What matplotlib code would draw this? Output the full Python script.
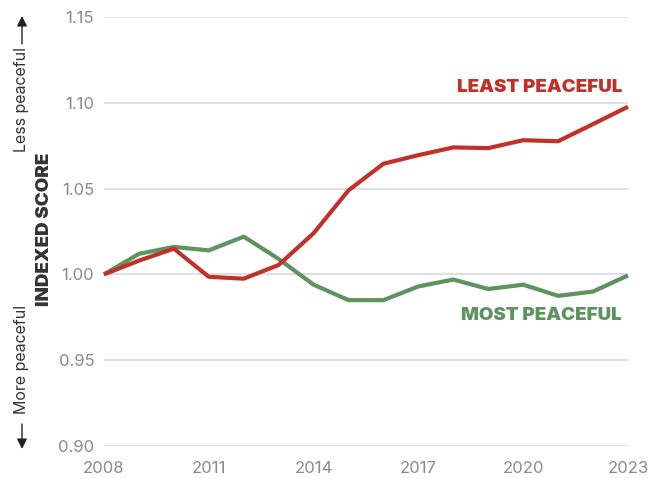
import matplotlib
matplotlib.use("Agg")
import matplotlib.pyplot as plt
from matplotlib.patches import FancyArrowPatch

years = list(range(2008, 2024))
least_peaceful = [1.000, 1.008, 1.015, 0.9986, 0.9975, 1.0055, 1.024, 1.049, 1.0645,
                  1.0695, 1.074, 1.0736, 1.0782, 1.0776, 1.0876, 1.0977]
most_peaceful = [1.000, 1.012, 1.016, 1.014, 1.022, 1.009, 0.994, 0.985, 0.985,
                 0.993, 0.997, 0.9915, 0.994, 0.9875, 0.990, 0.9994]
x_ticks = [2008, 2011, 2014, 2017, 2020, 2023]
y_ticks = [0.90, 0.95, 1.00, 1.05, 1.10, 1.15]

RED = "#c1312b"
GREEN = "#5c935f"
GRAY = "#8a8a8a"

fig = plt.figure(figsize=(6.62, 4.79), dpi=100)
ax = fig.add_axes([104/662, 1-446/479, (628-104)/662, (446-17)/479])
ax.set_xlim(2008, 2023)
ax.set_ylim(0.90, 1.15)
for s in ax.spines.values():
    s.set_visible(False)
ax.set_yticks(y_ticks)
ax.set_yticklabels([f"{v:.2f}" for v in y_ticks])
ax.set_xticks(x_ticks)
ax.set_xticklabels([str(v) for v in x_ticks])
ax.tick_params(axis="both", length=0, labelsize=12, labelcolor=GRAY)
ax.tick_params(axis="y", pad=7)
ax.tick_params(axis="x", pad=11)
for lab in ax.get_xticklabels() + ax.get_yticklabels():
    lab.set_family("Inter")
ax.grid(axis="y", color="#d9d9d9", linewidth=1.2)
ax.set_axisbelow(True)

ax.plot(years, most_peaceful, color=GREEN, linewidth=3, clip_on=False, solid_capstyle="butt")
ax.plot(years, least_peaceful, color=RED, linewidth=3, clip_on=False, solid_capstyle="butt")

fig.text(622/662, 1-88/479, "LEAST PEACEFUL", color=RED, fontsize=13.5, fontweight="black",
         family="Inter", ha="right", va="center")
fig.text(622/662, 1-315/479, "MOST PEACEFUL", color=GREEN, fontsize=13.5, fontweight="black",
         family="Inter", ha="right", va="center")

fig.text(45/662, 1-229/479, "INDEXED SCORE", color="#333333", fontsize=13.5, fontweight="black",
         family="Inter", rotation=90, ha="center", va="center")

fig.text(22/662, 1-100/479, "Less peaceful", color="#333333", fontsize=11.5, family="Inter",
         rotation=90, ha="center", va="center")
fig.text(22/662, 1-359/479, "More peaceful", color="#333333", fontsize=11.5, family="Inter",
         rotation=90, ha="center", va="center")
arrow_kw = dict(arrowstyle="-|>,head_length=0.6,head_width=0.3", color="#222222", lw=1,
                mutation_scale=10, shrinkA=0, shrinkB=0)
fig.add_artist(FancyArrowPatch((22/662, 1-44/479), (22/662, 1-16/479),
               transform=fig.transFigure, **arrow_kw))
fig.add_artist(FancyArrowPatch((22/662, 1-424/479), (22/662, 1-449/479),
               transform=fig.transFigure, **arrow_kw))

fig.savefig("out.png", dpi=100)
